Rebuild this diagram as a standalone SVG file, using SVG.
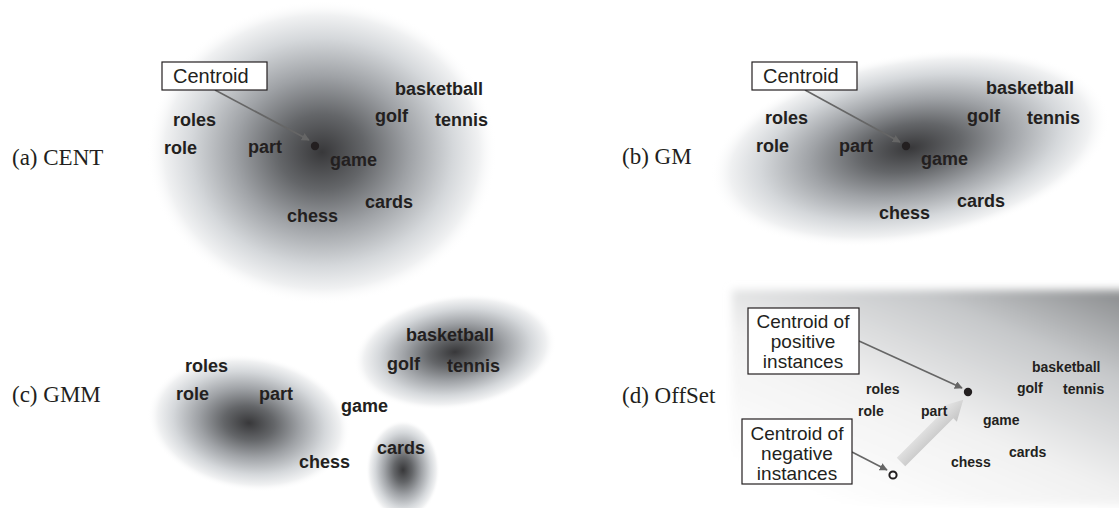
<svg xmlns="http://www.w3.org/2000/svg" width="1119" height="508" viewBox="0 0 1119 508">
<style>
.lbl{font-family:"Liberation Serif","Times New Roman",serif;font-size:23px;fill:#231f20}
.w{font-family:"Liberation Sans",Arial,sans-serif;font-weight:bold;font-size:18px;fill:#231f20}
.ws{font-family:"Liberation Sans",Arial,sans-serif;font-weight:bold;font-size:14px;fill:#231f20}
.bx{fill:#fff;stroke:#231f20;stroke-width:1.2}
.bt{font-family:"Liberation Sans",Arial,sans-serif;font-size:20px;fill:#231f20}
.bt2{font-family:"Liberation Sans",Arial,sans-serif;font-size:19px;fill:#231f20;text-anchor:middle}
.con{stroke:#666;stroke-width:1.6;fill:none;marker-end:url(#ah)}
</style>
<defs>
<marker id="ah" viewBox="0 0 10 10" refX="9" refY="5" markerWidth="5" markerHeight="5" orient="auto" markerUnits="strokeWidth">
<path d="M0,0 L10,5 L0,10 z" fill="#666"/>
</marker>
<radialGradient id="blob">
<stop offset="0" stop-color="#38383a"/>
<stop offset="0.25" stop-color="#646669"/>
<stop offset="0.5" stop-color="#9fa2a6"/>
<stop offset="0.75" stop-color="#d5d8db"/>
<stop offset="0.9" stop-color="#f0f1f2"/>
<stop offset="1" stop-color="#ffffff" stop-opacity="0"/>
</radialGradient>
<linearGradient id="bg" x1="0.25" y1="1" x2="1" y2="0.05">
<stop offset="0" stop-color="#ffffff"/>
<stop offset="0.4" stop-color="#f1f1f1"/>
<stop offset="0.75" stop-color="#c6c8ca"/>
<stop offset="1" stop-color="#8e9092"/>
</linearGradient>
<linearGradient id="fat" x1="0" y1="0" x2="0" y2="1">
<stop offset="0" stop-color="#e8e8e8"/>
<stop offset="1" stop-color="#c4c4c4"/>
</linearGradient>
<filter id="soft" x="-5%" y="-5%" width="110%" height="110%"><feGaussianBlur stdDeviation="4"/></filter>
</defs>

<g id="panel-a">
<ellipse cx="322" cy="152" rx="175" ry="152" fill="url(#blob)"/>
<text class="lbl" x="12" y="165">(a) CENT</text>
</g>
<g id="panel-b">
<ellipse cx="910" cy="148" rx="202" ry="94" fill="url(#blob)" transform="rotate(-10 910 148)"/>
<text class="lbl" x="622" y="164">(b) GM</text>
</g>
<g id="panel-c">
<ellipse cx="249" cy="423" rx="102" ry="68" fill="url(#blob)" transform="rotate(8 249 423)"/>
<ellipse cx="455" cy="352" rx="102" ry="57" fill="url(#blob)" transform="rotate(-8 455 352)"/>
<ellipse cx="403" cy="470" rx="37" ry="50" fill="url(#blob)"/>
<text class="lbl" x="12" y="402">(c) GMM</text>
</g>
<g id="panel-d">
<rect x="732" y="290" width="400" height="215" fill="url(#bg)" filter="url(#soft)"/>
<text class="lbl" x="622" y="403">(d) OffSet</text>
</g>

<g id="connectors">
<path class="con" d="M215,90 L309,140"/>
<path class="con" d="M805,90 L900,142"/>
<path class="con" d="M859,341 L962,388"/>
<path class="con" d="M852,452 L887,470"/>
<g transform="translate(901,462) rotate(-45)">
<polygon points="0,-6 68,-6 68,-11 88,0 68,11 68,6 0,6" fill="url(#fat)"/>
</g>
</g>

<g id="words-a">
<text class="w" x="395" y="95">basketball</text>
<text class="w" x="375" y="122">golf</text>
<text class="w" x="435" y="126">tennis</text>
<text class="w" x="173" y="126">roles</text>
<text class="w" x="164" y="154">role</text>
<text class="w" x="248" y="153">part</text>
<text class="w" x="330" y="166">game</text>
<text class="w" x="365" y="208">cards</text>
<text class="w" x="287" y="222">chess</text>
<circle cx="315" cy="146" r="4.2" fill="#231f20"/>
</g>
<g id="box-a">
<rect class="bx" x="162" y="62" width="105" height="28"/>
<text class="bt" x="173" y="83">Centroid</text>
</g>

<g id="words-b">
<text class="w" x="986" y="94">basketball</text>
<text class="w" x="967" y="122">golf</text>
<text class="w" x="1027" y="124">tennis</text>
<text class="w" x="765" y="124">roles</text>
<text class="w" x="756" y="152">role</text>
<text class="w" x="839" y="152">part</text>
<text class="w" x="921" y="165">game</text>
<text class="w" x="957" y="207">cards</text>
<text class="w" x="879" y="219">chess</text>
<circle cx="906" cy="146" r="4.2" fill="#231f20"/>
</g>
<g id="box-b">
<rect class="bx" x="752" y="62" width="105" height="28"/>
<text class="bt" x="763" y="83">Centroid</text>
</g>

<g id="words-c">
<text class="w" x="406" y="341">basketball</text>
<text class="w" x="387" y="370">golf</text>
<text class="w" x="447" y="372">tennis</text>
<text class="w" x="185" y="372">roles</text>
<text class="w" x="176" y="400">role</text>
<text class="w" x="259" y="400">part</text>
<text class="w" x="341" y="412">game</text>
<text class="w" x="377" y="454">cards</text>
<text class="w" x="299" y="468">chess</text>
</g>

<g id="words-d">
<text class="ws" x="1032" y="372">basketball</text>
<text class="ws" x="1017" y="393">golf</text>
<text class="ws" x="1063" y="394">tennis</text>
<text class="ws" x="866" y="394">roles</text>
<text class="ws" x="858" y="416">role</text>
<text class="ws" x="921" y="416">part</text>
<text class="ws" x="983" y="425">game</text>
<text class="ws" x="1009" y="457">cards</text>
<text class="ws" x="951" y="467">chess</text>
<circle cx="968" cy="392" r="4.2" fill="#231f20"/>
<circle cx="893" cy="475" r="3.6" fill="#fff" stroke="#231f20" stroke-width="2"/>
</g>
<g id="box-pos">
<rect class="bx" x="748" y="308" width="111" height="66"/>
<text class="bt2" x="803" y="328">Centroid of</text>
<text class="bt2" x="803" y="348">positive</text>
<text class="bt2" x="803" y="368">instances</text>
</g>
<g id="box-neg">
<rect class="bx" x="742" y="419" width="110" height="65"/>
<text class="bt2" x="797" y="440">Centroid of</text>
<text class="bt2" x="797" y="460">negative</text>
<text class="bt2" x="797" y="480">instances</text>
</g>
</svg>
